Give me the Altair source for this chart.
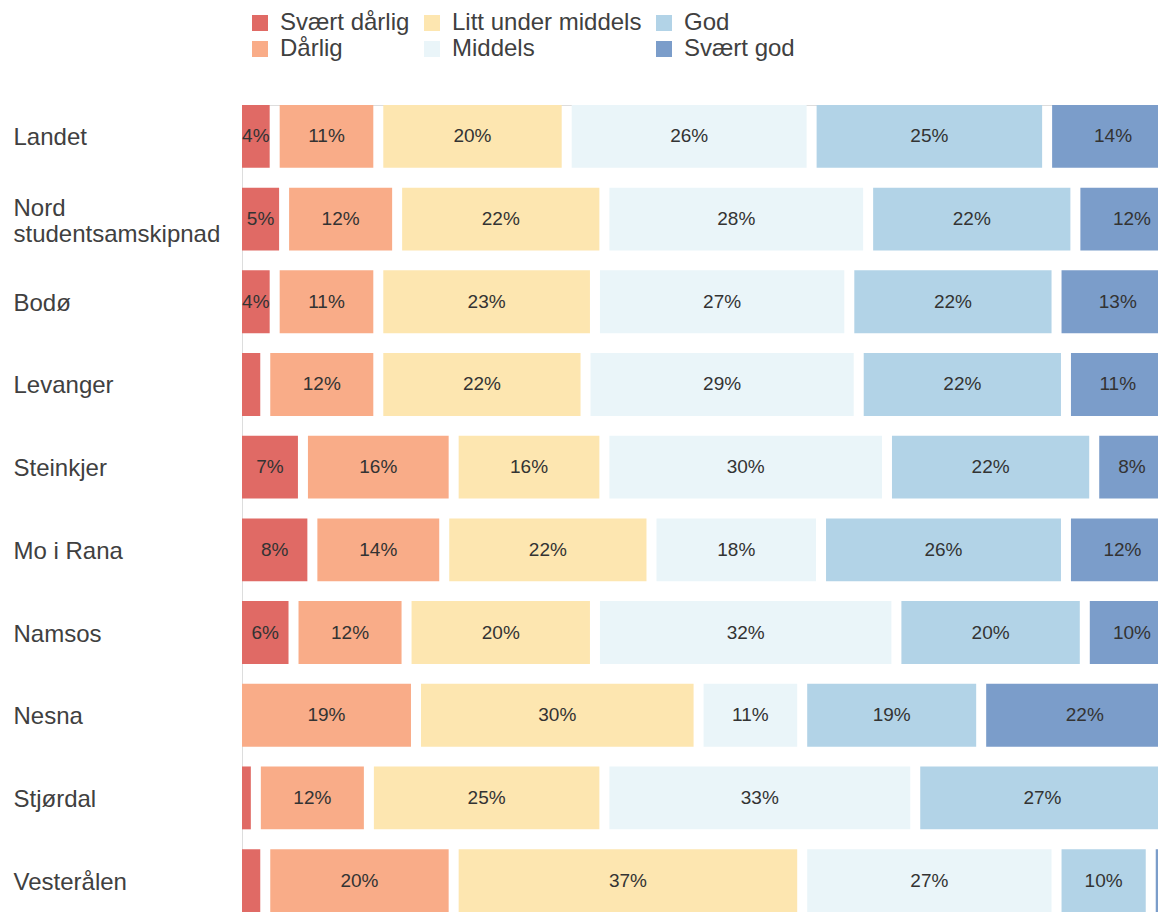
import altair as alt
import pandas as pd

regions = ["Landet", "Nord studentsamskipnad", "Bodø", "Levanger", "Steinkjer",
           "Mo i Rana", "Namsos", "Nesna", "Stjørdal", "Vesterålen"]
categories = ["Svært dårlig", "Dårlig", "Litt under middels", "Middels", "God", "Svært god"]
colors = ["#E06A65", "#F9AC88", "#FDE6B0", "#EAF5F9", "#B2D3E7", "#7B9DCA"]

svaert_darlig = [4, 5, 4, 3, 7, 8, 6, 0, 2, 3]
darlig = [11, 12, 11, 12, 16, 14, 12, 19, 12, 20]
litt_under = [20, 22, 23, 22, 16, 22, 20, 30, 25, 37]
middels = [26, 28, 27, 29, 30, 18, 32, 11, 33, 27]
god = [25, 22, 22, 22, 22, 26, 20, 19, 27, 10]
svaert_god = [14, 12, 13, 11, 8, 12, 10, 22, 1, 3]

series = [svaert_darlig, darlig, litt_under, middels, god, svaert_god]
rows = []
for ci, (cat, vals) in enumerate(zip(categories, series)):
    for r, v in zip(regions, vals):
        rows.append({"region": r, "category": cat, "order": ci, "value": v})
df = pd.DataFrame(rows)

FONT = "Liberation Sans"

base = alt.Chart(df).transform_stack(
    stack="value", groupby=["region"], as_=["start", "end"],
    sort=[alt.SortField("order", order="ascending")]
)

y_enc = alt.Y(
    "region:N", sort=regions,
    scale=alt.Scale(paddingInner=0.24, paddingOuter=0),
    axis=alt.Axis(
        title=None, ticks=False, tickSize=0, domain=False, grid=False,
        labelAlign="left", labelPadding=229, labelFontSize=24,
        labelFont=FONT, labelColor="#404040", labelLimit=400,
        labelLineHeight=26,
        labelOffset={"condition": {"test": "datum.value == 'Nord studentsamskipnad'", "value": -10}, "value": 2},
        labelExpr="datum.label == 'Nord studentsamskipnad' ? ['Nord', 'studentsamskipnad'] : datum.label",
    ),
)
x_scale = alt.Scale(domain=[0, 97.24], nice=False, zero=False)

bars = base.transform_filter("datum.value > 0").mark_bar(x2Offset=-10, strokeWidth=0).encode(
    y=y_enc,
    x=alt.X("start:Q", scale=x_scale, axis=None),
    x2="end:Q",
    color=alt.Color(
        "category:N",
        scale=alt.Scale(domain=categories, range=colors),
        legend=alt.Legend(
            title=None, orient="none", legendX=6, legendY=-94, columns=3,
            symbolType="square", symbolSize=256, symbolStrokeWidth=0,
            symbolOpacity=1, labelFontSize=24, labelFont=FONT,
            labelColor="#404040", labelOffset=8, columnPadding=10,
            rowPadding=2, padding=0, labelLimit=400,
        ),
    ),
)

texts = base.transform_filter("datum.value >= 4").transform_calculate(
    mid="(datum.start + datum.end) / 2",
    label="datum.value + '%'",
).mark_text(xOffset=-5, fontSize=19, font=FONT, color="#333333").encode(
    y=y_enc,
    x=alt.X("mid:Q", scale=x_scale, axis=None),
    text="label:N",
)

chart = alt.layer(bars, texts).properties(
    width=916, height=807,
    autosize=alt.AutoSizeParams(type="none"),
    padding={"left": 234, "top": 97, "right": 0, "bottom": 0},
).configure_view(strokeWidth=0, stroke="transparent").configure_axis(
    domain=False, grid=False, ticks=False
).configure(background="white")

chart.save("out.html", embed_options={"renderer": "svg", "actions": False})
